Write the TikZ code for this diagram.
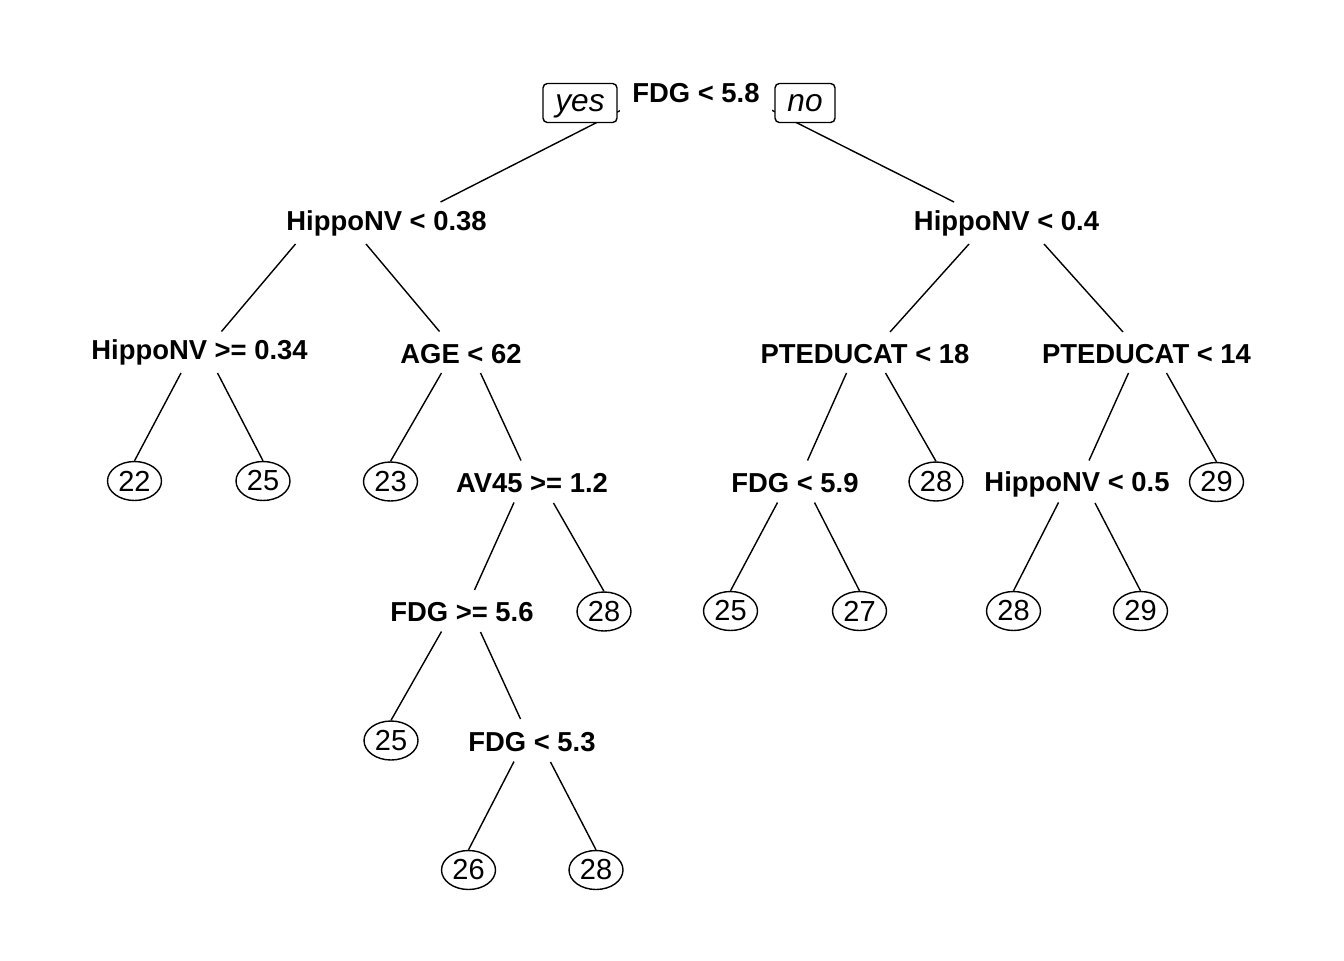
\documentclass[tikz,border=0pt]{standalone}
\usepackage{fontspec}
\setmainfont{Liberation Sans}
\usetikzlibrary{shapes.geometric,backgrounds,calc}

\tikzset{
  splitlab/.style={font=\fontsize{15.6}{18}\selectfont\bfseries, inner sep=0pt, text height=11.2pt, text depth=0pt},
  leafnode/.style={draw, ellipse, line width=0.8pt, fill=white, inner sep=0pt, minimum width=1.08cm, minimum height=0.78cm, font=\fontsize{16.5}{19}\selectfont},
  yesno/.style={draw, rounded corners=2.5pt, line width=0.8pt, fill=white, inner sep=0pt, minimum height=0.78cm, text height=9.3pt, text depth=0pt, font=\fontsize{18}{20}\selectfont\itshape},
  edgeline/.style={line width=0.8pt}
}

\begin{document}
\begin{tikzpicture}[x=0.02cm,y=-0.02cm]
	\useasboundingbox (0,0) rectangle (1344,960);
	% splits
	\node (root) at (696,93) [splitlab, fill=white, inner xsep=0.25cm, minimum height=0.92cm] {FDG < 5.8};
	\node (yes) at (580,103) [yesno, minimum width=1.48cm] {yes};
	\node (no) at (805,103) [yesno, minimum width=1.2cm] {no};
	\coordinate (top) at (696,72);
	\node (h038) at (386.5,221) [splitlab] {HippoNV < 0.38};
	\node (h04) at (1006.5,221) [splitlab] {HippoNV < 0.4};
	\node (h034) at (199.5,350) [splitlab] {HippoNV >= 0.34};
	\node (age) at (461,354) [splitlab] {AGE < 62};
	\node (pt18) at (865,354) [splitlab] {PTEDUCAT < 18};
	\node (pt14) at (1146.5,354) [splitlab] {PTEDUCAT < 14};
	\node (av45) at (532,482.5) [splitlab] {AV45 >= 1.2};
	\node (fdg59) at (795,483) [splitlab] {FDG < 5.9};
	\node (hv05) at (1077,481.5) [splitlab] {HippoNV < 0.5};
	\node (fdg56) at (462,612) [splitlab] {FDG >= 5.6};
	\node (fdg53) at (532,742) [splitlab] {FDG < 5.3};
	% leaves
	\node (l22) at (134.5,481) [leafnode] {22};
	\node (l25a) at (263,481) [leafnode] {25};
	\node (l23) at (390.5,481.5) [leafnode] {23};
	\node (l28a) at (604,611.5) [leafnode] {28};
	\node (l25b) at (391,740.5) [leafnode] {25};
	\node (l26) at (468.5,870) [leafnode] {26};
	\node (l28b) at (596,870) [leafnode] {28};
	\node (l28c) at (936,481.5) [leafnode] {28};
	\node (l25c) at (730.5,611) [leafnode] {25};
	\node (l27) at (859.5,611) [leafnode] {27};
	\node (l29a) at (1216.5,482) [leafnode] {29};
	\node (l28d) at (1013.5,611) [leafnode] {28};
	\node (l29b) at (1140.5,611) [leafnode] {29};
	% branches
	\begin{scope}[on background layer]
	\draw[edgeline] (top)--($(h038)+(54,-19)$);
	\draw[edgeline] (top)--($(h04)+(-52.5,-19)$);
	\draw[edgeline] ($(h038)+(-91,23)$)--($(h034)+(22,-18.5)$);
	\draw[edgeline] ($(h038)+(-20.5,23)$)--($(age)+(-21.5,-22.5)$);
	\draw[edgeline] ($(h04)+(-37.5,23)$)--($(pt18)+(25,-22)$);
	\draw[edgeline] ($(h04)+(37.5,23)$)--($(pt14)+(-23.5,-22)$);
	\draw[edgeline] ($(h034)+(-18.5,23)$)--(l22.north);
	\draw[edgeline] ($(h034)+(18,23)$)--(l25a.north);
	\draw[edgeline] ($(age)+(-19.5,19)$)--(l23.north);
	\draw[edgeline] ($(age)+(19.5,19)$)--($(av45)+(-11,-22)$);
	\draw[edgeline] ($(pt18)+(-18.5,19)$)--($(fdg59)+(12.5,-22.5)$);
	\draw[edgeline] ($(pt18)+(20.5,19)$)--(l28c.north);
	\draw[edgeline] ($(pt14)+(-18,19)$)--($(hv05)+(12,-21)$);
	\draw[edgeline] ($(pt14)+(20,19)$)--(l29a.north);
	\draw[edgeline] ($(av45)+(-18,20)$)--($(fdg56)+(12.5,-22)$);
	\draw[edgeline] ($(av45)+(21.5,20.5)$)--(l28a.north);
	\draw[edgeline] ($(fdg59)+(-17.5,19.5)$)--(l25c.north);
	\draw[edgeline] ($(fdg59)+(19.5,19.5)$)--(l27.north);
	\draw[edgeline] ($(hv05)+(-18.5,21)$)--(l28d.north);
	\draw[edgeline] ($(hv05)+(18,21.5)$)--(l29b.north);
	\draw[edgeline] ($(fdg56)+(-20.5,19.5)$)--(l25b.north);
	\draw[edgeline] ($(fdg56)+(18.5,20)$)--($(fdg53)+(-11.5,-23)$);
	\draw[edgeline] ($(fdg53)+(-18,19.5)$)--(l26.north);
	\draw[edgeline] ($(fdg53)+(18.5,20)$)--(l28b.north);
	\end{scope}
\end{tikzpicture}
\end{document}
